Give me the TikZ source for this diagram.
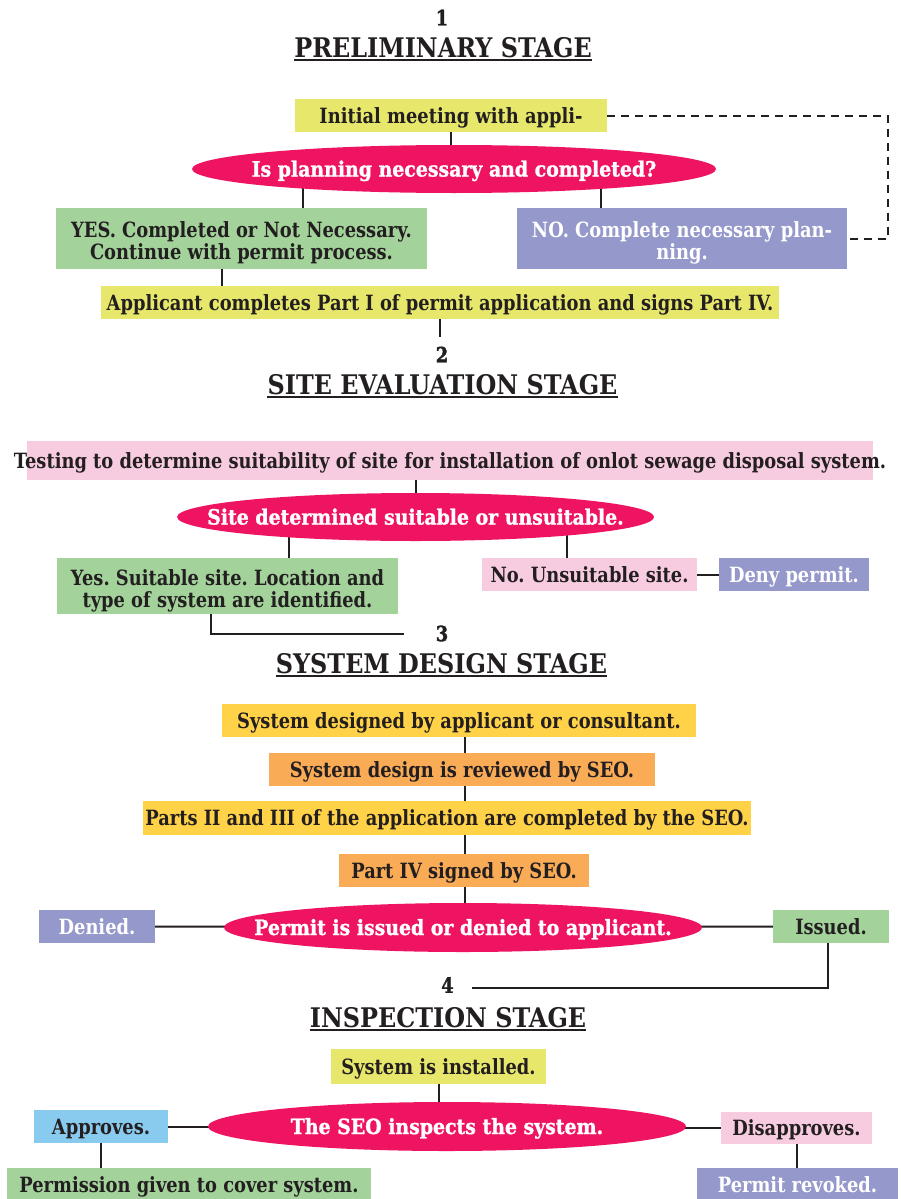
\documentclass[tikz,border=0pt]{standalone}
\usepackage{fontspec}
\setmainfont{DejaVu Serif}
\newfontfamily\boxfont{DejaVu Serif}[FakeStretch=0.85]
\newfontfamily\ellfont{DejaVu Serif}[FakeStretch=0.9,FakeBold=1.2]
\newfontfamily\numfont{DejaVu Serif}[FakeStretch=0.85,FakeBold=1.5]
\newfontfamily\headfont{DejaVu Serif}[FakeStretch=0.885]
\usetikzlibrary{shapes.geometric,backgrounds}
\definecolor{ink}{HTML}{231F20}
\definecolor{yel}{HTML}{E7E86B}
\definecolor{grn}{HTML}{A3D29B}
\definecolor{pur}{HTML}{9598CA}
\definecolor{mag}{HTML}{EE1461}
\definecolor{pnk}{HTML}{F8CCE0}
\definecolor{gold}{HTML}{FFD247}
\definecolor{orn}{HTML}{F9AB56}
\definecolor{blu}{HTML}{89CBEF}
\frenchspacing
\begin{document}
\begin{tikzpicture}[x=1pt,y=-1pt,
  box/.style={rectangle,inner sep=0pt,outer sep=0pt,align=center,text=ink,
    text height=15pt,text depth=0pt,
    font=\boxfont\bfseries\fontsize{21}{22}\selectfont},
  twoline/.style={text height=42pt,text depth=0pt},
  wbox/.style={box,text=white},
  oval/.style={ellipse,inner sep=0pt,outer sep=0pt,fill=mag,text=white,
    text height=15pt,text depth=0pt,
    font=\ellfont\bfseries\fontsize{21}{22}\selectfont},
  num/.style={inner sep=0pt,text=ink,font=\numfont\bfseries\fontsize{21}{21}\selectfont},
  head/.style={inner sep=0pt,text=ink,font=\headfont\bfseries\fontsize{27}{27}\selectfont},
  uline/.style={draw=ink,line width=2pt},
  conn/.style={draw=ink,line width=2pt},
  dash line/.style={conn,dash pattern=on 8pt off 6pt}]
\useasboundingbox (0,0) rectangle (900,1199);

% ---------- Stage 1
\node[num] (n1) at (442,17.5) {1};
\node[head,anchor=base] (h1) at (443,58) {PRELIMINARY STAGE};
\node[box,fill=yel,minimum width=312pt,minimum height=33pt] (init) at (451,115.5) {Initial meeting with appli-};
\node[oval,minimum width=524pt,minimum height=48pt] (ell1) at (454,169) {\makebox[0pt]{Is planning necessary and completed?}};
\node[box,twoline,fill=grn,minimum width=371pt,minimum height=61pt] (yes1) at (241.5,238.5) {YES. Completed or Not Necessary.\\Continue with permit process.};
\node[wbox,twoline,fill=pur,minimum width=330pt,minimum height=61pt] (no1) at (682,238.5) {NO. Complete necessary plan-\\ning.};
\node[box,fill=yel,minimum width=678pt,minimum height=33pt] (appl) at (440,302.5) {Applicant completes Part I of permit application and signs Part IV.};
\coordinate (dR) at (888,175);

% ---------- Stage 2
\node[num,outer ysep=10pt] (n2) at (442,354.5) {2};
\node[head,anchor=base] (h2) at (442.5,394) {SITE EVALUATION STAGE};
\node[box,fill=pnk,minimum width=846pt,minimum height=39pt] (test) at (450,460.5) {\makebox[0pt]{Testing to determine suitability of site for installation of onlot sewage disposal system.}};
\node[oval,minimum width=477pt,minimum height=48pt] (ell2) at (415.5,517) {\makebox[0pt]{Site determined suitable or unsuitable.}};
\node[box,twoline,fill=grn,minimum width=341pt,minimum height=56pt] (yes2) at (227.5,586) {Yes. Suitable site. Location and\\type of system are identified.};
\node[box,fill=pnk,minimum width=215pt,minimum height=33pt] (no2) at (589.5,574.5) {No. Unsuitable site.};
\node[wbox,fill=pur,minimum width=150pt,minimum height=33pt] (deny) at (794,574.5) {Deny permit.};
\coordinate (c3) at (404,634);

% ---------- Stage 3
\node[num] (n3) at (442,633.5) {3};
\node[head,anchor=base] (h3) at (441.5,673) {SYSTEM DESIGN STAGE};
\node[box,fill=gold,minimum width=474pt,minimum height=33pt] (sd1) at (459,720.5) {System designed by applicant or consultant.};
\node[box,fill=orn,minimum width=386pt,minimum height=33pt] (sd2) at (462,769.5) {System design is reviewed by SEO.};
\node[box,fill=gold,minimum width=608pt,minimum height=34pt] (sd3) at (447,818) {Parts II and III of the application are completed by the SEO.};
\node[box,fill=orn,minimum width=250pt,minimum height=33pt] (sd4) at (464,870.5) {Part IV signed by SEO.};
\node[oval,minimum width=478pt,minimum height=49pt] (ell3) at (463,927.5) {\makebox[0pt]{Permit is issued or denied to applicant.}};
\node[wbox,fill=pur,minimum width=116pt,minimum height=33pt] (denied) at (97,926.5) {Denied.};
\node[box,fill=grn,minimum width=116pt,minimum height=33pt] (issued) at (831,926.5) {Issued.};
\coordinate (c4) at (472,988);

% ---------- Stage 4
\node[num] (n4) at (447.5,985) {4};
\node[head,anchor=base] (h4) at (448,1027) {INSPECTION STAGE};
\node[box,fill=yel,minimum width=215pt,minimum height=35pt] (inst) at (438.5,1066.5) {System is installed.};
\node[oval,minimum width=478pt,minimum height=49pt] (ell4) at (447,1126.5) {\makebox[0pt]{The SEO inspects the system.}};
\node[box,fill=blu,minimum width=134pt,minimum height=33pt] (appr) at (101,1126.5) {Approves.};
\node[box,fill=grn,minimum width=364pt,minimum height=34pt] (perm) at (189,1185) {Permission given to cover system.};
\node[box,fill=pnk,minimum width=151pt,minimum height=32pt] (disap) at (796.5,1128) {Disapproves.};
\node[wbox,fill=pur,minimum width=201pt,minimum height=34pt] (revk) at (797.5,1185) {Permit revoked.};

% underlines
\foreach \h in {h1,h2,h3,h4}
  \draw[uline] ([yshift=-2.5pt]\h.base west) -- ([yshift=-2.5pt]\h.base east);

\begin{scope}[on background layer]
\fill[white] (0,0) rectangle (900,1199);
% stage 1
\draw[conn] (init.south) -- (init.south |- ell1.center);
\draw[conn] ([xshift=61.5pt]yes1.north) -- ([xshift=61.5pt]yes1.north |- ell1.center);
\draw[conn] ([xshift=-81pt]no1.north) -- ([xshift=-81pt]no1.north |- ell1.center);
\draw[dash line] (init.east) -| (dR) |- (no1.east);
\draw[conn] ([xshift=-19.5pt]yes1.south) -- ([xshift=-19.5pt]yes1.south |- appl.north);
\draw[conn] (appl.south) -- (appl.south |- n2.north);
% stage 2
\draw[conn] (ell2.north |- test.south) -- (ell2.center);
\draw[conn] ([xshift=61.5pt]yes2.north) -- ([xshift=61.5pt]yes2.north |- ell2.center);
\draw[conn] ([xshift=-22.5pt]no2.north) -- ([xshift=-22.5pt]no2.north |- ell2.center);
\draw[conn] (no2.east) -- (deny.west);
\draw[conn] ([xshift=-16.5pt]yes2.south) |- (c3);
% stage 3
\draw[conn] ([xshift=6pt]sd1.south) -- ([xshift=6pt]sd1.south |- sd2.north);
\draw[conn] ([xshift=3pt]sd2.south) -- ([xshift=3pt]sd2.south |- sd3.north);
\draw[conn] ([xshift=18pt]sd3.south) -- ([xshift=18pt]sd3.south |- sd4.north);
\draw[conn] ([xshift=1pt]sd4.south) -- ([xshift=1pt]sd4.south |- ell3.center);
\draw[conn] (denied.east) -- (ell3.center);
\draw[conn] (ell3.center) -- (issued.west);
\draw[conn] ([xshift=-3pt]issued.south) |- (c4);
% stage 4
\draw[conn] (inst.south) -- (inst.south |- ell4.center);
\draw[conn] (appr.east) -- (ell4.center);
\draw[conn] (ell4.center |- disap.west) -- (disap.west);
\draw[conn] (appr.south) -- (appr.south |- perm.north);
\draw[conn] (disap.south) -- (disap.south |- revk.north);
\end{scope}
\end{tikzpicture}
\end{document}
